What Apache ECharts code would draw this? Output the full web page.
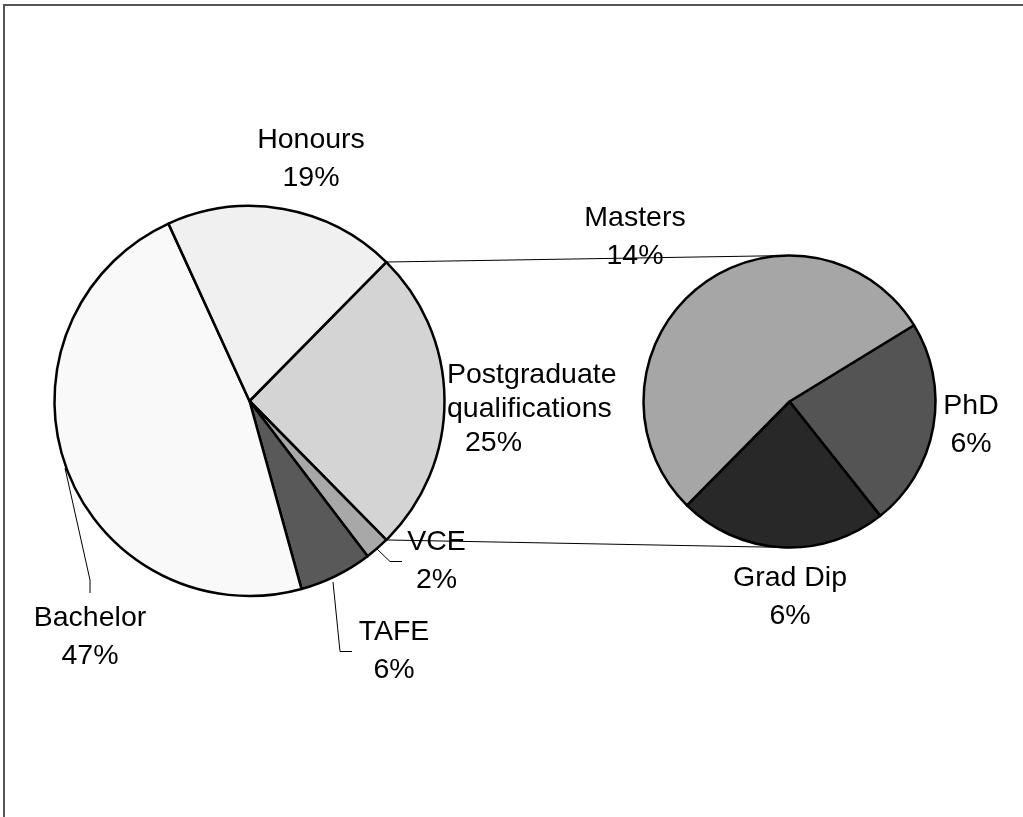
<!DOCTYPE html>
<html>
<head>
<meta charset="utf-8">
<title>Highest qualification</title>
<script src="https://cdn.jsdelivr.net/npm/echarts@6/dist/echarts.min.js"></script>
<style>
  html, body { margin: 0; padding: 0; background: #ffffff; }
  #chart { width: 1023px; height: 817px; }
</style>
</head>
<body>
<div id="chart"></div>
<script>
// Main pie, listed clockwise starting with the slice that is broken out
const mainNames = ['Postgraduate qualifications', 'VCE', 'TAFE', 'Bachelor', 'Honours'];
const mainValues = [25, 2, 6, 47, 19];
const mainColors = ['#d4d4d4', '#a8a8a8', '#595959', '#f9f9f9', '#f0f0f0'];

// Breakdown of postgraduate qualifications, clockwise from the top right
const subNames = ['PhD', 'Grad Dip', 'Masters'];
const subValues = [6, 6, 14];
const subColors = ['#545454', '#282828', '#a6a6a6'];

// Geometry of the two pies
const mainCenter = [249.5, 401];
const mainRadius = 195;
const subCenter = [789.5, 401.5];
const subRadius = 146;

const mainTotal = mainValues.reduce((a, b) => a + b, 0);
const splitSweep = 360 * mainValues[0] / mainTotal;
const mainStart = splitSweep / 2;   // broken-out slice centred on the right
const subStart = 31.5;

// Label placement (text block centre) and leader lines
const labelSpots = {
  'Honours':   { x: 311, y: 159, align: 'center' },
  'Postgraduate qualifications': { x: 447, y: 409, align: 'left' },
  'VCE':       { x: 436.5, y: 561, align: 'center', line: [[377, 549], [390, 561.5], [402, 561.5]] },
  'TAFE':      { x: 394, y: 651.5, align: 'center', line: [[333, 582], [340, 651.5], [352, 651.5]] },
  'Bachelor':  { x: 90, y: 637.5, align: 'center', line: [[65, 468], [90, 580], [90, 593]] },
  'Masters':   { x: 635, y: 237.5, align: 'center' },
  'PhD':       { x: 971, y: 425, align: 'center' },
  'Grad Dip':  { x: 790, y: 597.5, align: 'center' }
};

const FONT = '"Liberation Sans", Arial, sans-serif';
const FONT_SIZE = 28.5;

function buildItems(names, values, colors) {
  return names.map((n, i) => {
    const spot = labelSpots[n];
    const item = {
      name: n,
      value: values[i],
      itemStyle: { color: colors[i] },
      labelLine: { show: !!spot.line, lineStyle: { color: '#000', width: 1 } }
    };
    if (n === 'Postgraduate qualifications') {
      item.label = {
        formatter: p => '{t|Postgraduate}\n{t|qualifications}\n{v|' + p.value + '%}',
        rich: {
          t: { fontFamily: FONT, fontSize: FONT_SIZE, color: '#000', lineHeight: 34 },
          v: { fontFamily: FONT, fontSize: FONT_SIZE, color: '#000', lineHeight: 34, padding: [0, 0, 0, 18] }
        }
      };
    }
    return item;
  });
}

function layoutFor(names) {
  return function (params) {
    const spot = labelSpots[names[params.dataIndex]];
    const out = { x: spot.x, y: spot.y, align: spot.align, verticalAlign: 'middle' };
    if (spot.line) out.labelLinePoints = spot.line;
    return out;
  };
}

function polar(c, r, deg) {
  const a = deg * Math.PI / 180;
  return [c[0] + r * Math.cos(a), c[1] - r * Math.sin(a)];
}

// Connectors from the broken-out slice edges to the top and bottom of the second pie
const topFrom = polar(mainCenter, mainRadius, mainStart);
const botFrom = polar(mainCenter, mainRadius, mainStart - splitSweep);
const topTo = [subCenter[0], subCenter[1] - subRadius];
const botTo = [subCenter[0], subCenter[1] + subRadius];

const baseLabel = {
  show: true,
  position: 'outside',
  formatter: '{b}\n{c}%',
  fontFamily: FONT,
  fontSize: FONT_SIZE,
  color: '#000',
  lineHeight: 38
};

const pieCommon = {
  type: 'pie',
  clockwise: true,
  avoidLabelOverlap: false,
  animation: false,
  silent: true,
  emphasis: { disabled: true },
  itemStyle: { borderColor: '#000', borderWidth: 2.5 },
  label: baseLabel
};

const chart = echarts.init(document.getElementById('chart'), null, { renderer: 'canvas' });
chart.setOption({
  backgroundColor: '#ffffff',
  animation: false,
  graphic: [
    {
      type: 'rect', z: 0, silent: true,
      shape: { x: 4, y: 5, width: 1100, height: 900 },
      style: { fill: null, stroke: '#555555', lineWidth: 2 }
    },
    {
      type: 'line', z: 1, silent: true,
      shape: { x1: topFrom[0], y1: topFrom[1], x2: topTo[0], y2: topTo[1] },
      style: { stroke: '#000', lineWidth: 1 }
    },
    {
      type: 'line', z: 1, silent: true,
      shape: { x1: botFrom[0], y1: botFrom[1], x2: botTo[0], y2: botTo[1] },
      style: { stroke: '#000', lineWidth: 1 }
    }
  ],
  series: [
    Object.assign({}, pieCommon, {
      name: 'Qualification',
      center: mainCenter,
      radius: mainRadius,
      startAngle: mainStart,
      data: buildItems(mainNames, mainValues, mainColors),
      labelLayout: layoutFor(mainNames)
    }),
    Object.assign({}, pieCommon, {
      name: 'Postgraduate',
      center: subCenter,
      radius: subRadius,
      startAngle: subStart,
      data: buildItems(subNames, subValues, subColors),
      labelLayout: layoutFor(subNames)
    })
  ]
});
</script>
</body>
</html>
